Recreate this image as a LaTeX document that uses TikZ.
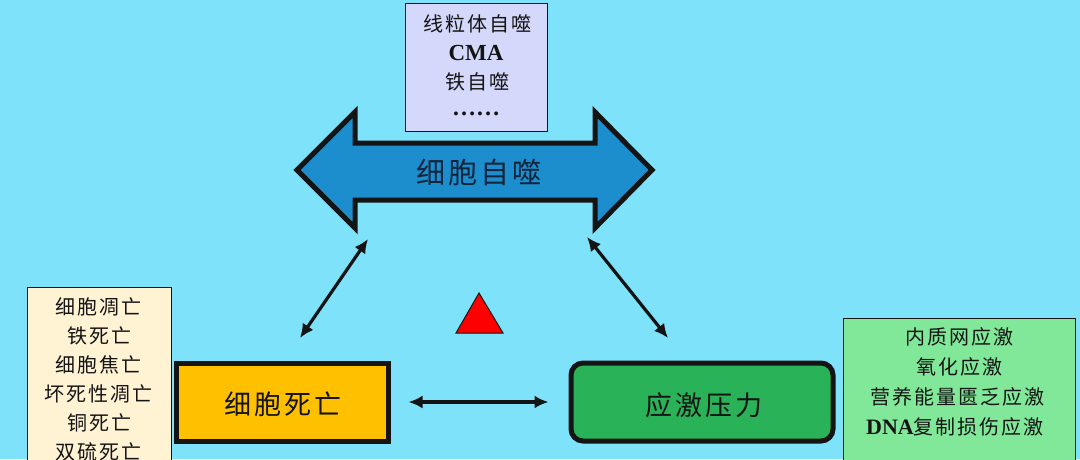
\documentclass[tikz,border=0pt]{standalone}
\usepackage{fontspec}
\setmainfont{Liberation Serif}
\newfontfamily\cjk[LetterSpace=10]{Noto Sans CJK SC}
\usetikzlibrary{arrows.meta}
\definecolor{bg}{RGB}{125,226,250}
\definecolor{arrowblue}{RGB}{28,142,206}
\definecolor{lav}{RGB}{212,216,250}
\definecolor{cream}{RGB}{255,243,212}
\definecolor{gold}{RGB}{255,192,0}
\definecolor{grn}{RGB}{42,178,88}
\definecolor{lgrn}{RGB}{128,232,152}
\definecolor{ink}{RGB}{20,20,20}
\definecolor{navy}{RGB}{18,36,60}
\tikzset{
  listbox/.style={draw=ink, line width=1pt},
  bigbox/.style={draw=ink, line width=5pt},
  listtext/.style={font=\cjk\fontsize{20}{24}\selectfont, text=ink, inner sep=0pt},
  bigtext/.style={font=\cjk\fontsize{27}{32}\selectfont, text=ink, inner sep=0pt},
  link/.style={draw=ink, line width=3.2pt, {Latex[length=14pt,width=13pt]}-{Latex[length=14pt,width=13pt]}},
}
\begin{document}
\begin{tikzpicture}[x=1pt,y=-1pt]
\useasboundingbox (0,0) rectangle (1080,459);
\clip (0,0) rectangle (1080,459);
\fill[bg] (0,0) rectangle (1080,459);

% top list box
\draw[listbox, fill=lav] (405,3) rectangle (547,131);
\node[listtext] (t1) at (477,24) {线粒体自噬};
\node[inner sep=0pt, font=\fontsize{23}{26}\selectfont\bfseries, text=ink] (t2) at (476,53) {CMA};
\node[listtext] (t3) at (477,82) {铁自噬};
\node[inner sep=0pt, font=\fontsize{24}{26}\selectfont\bfseries, text=ink] (t4) at (476,114) {……};

% big double arrow
\draw[line width=5pt, line join=miter, draw=ink, fill=arrowblue]
  (297,170) -- (355,112) -- (355,143) -- (595,143) -- (595,112) -- (652,170)
  -- (595,228) -- (595,200) -- (355,200) -- (355,228) -- cycle;
\node[font=\cjk\fontsize{29}{34}\selectfont, text=navy, inner sep=0pt] (auto) at (479,172) {细胞自噬};

% left list box
\draw[listbox, fill=cream] (27,287) rectangle (171,475);
\node[listtext] (l1) at (99,307) {细胞凋亡};
\node[listtext] (l2) at (99,336) {铁死亡};
\node[listtext] (l3) at (99,365) {细胞焦亡};
\node[listtext] (l4) at (99,394) {坏死性凋亡};
\node[listtext] (l5) at (99,423) {铜死亡};
\node[listtext] (l6) at (99,452) {双硫死亡};

% cell death box
\node[bigbox, fill=gold, minimum width=212pt, minimum height=78pt, inner sep=0pt] (death) at (282,402) {};
\node[bigtext] (deatht) at (283,404) {细胞死亡};

% stress box
\node[bigbox, fill=grn, rounded corners=12pt, minimum width=262pt, minimum height=78pt, inner sep=0pt] (stress) at (702,402) {};
\node[bigtext] (stresst) at (704,405) {应激压力};

% right list box
\draw[listbox, fill=lgrn] (843,318) rectangle (1075,475);
\node[listtext] (r1) at (959,337) {内质网应激};
\node[listtext] (r2) at (959,367) {氧化应激};
\node[listtext] (r3) at (957,397) {营养能量匮乏应激};
\node[inner sep=0pt, text=ink] (r4) at (955,427) {{\fontsize{22}{24}\selectfont\bfseries DNA}{\cjk\fontsize{20}{24}\selectfont 复制损伤应激}};

% triangle
\draw[fill=red, draw=ink, line width=1pt] (479,293) -- (503,333) -- (456,333) -- cycle;

% connector coordinates
\coordinate (aL) at (368,239);
\coordinate (dT) at (300,338);
\coordinate (aR) at (587,237);
\coordinate (sT) at (668,338);

\draw[link] (aL) -- (dT);
\draw[link] (aR) -- (sT);
\draw[link, shorten <=18pt, shorten >=20pt] (death.east) -- (stress.west);
\end{tikzpicture}
\end{document}
